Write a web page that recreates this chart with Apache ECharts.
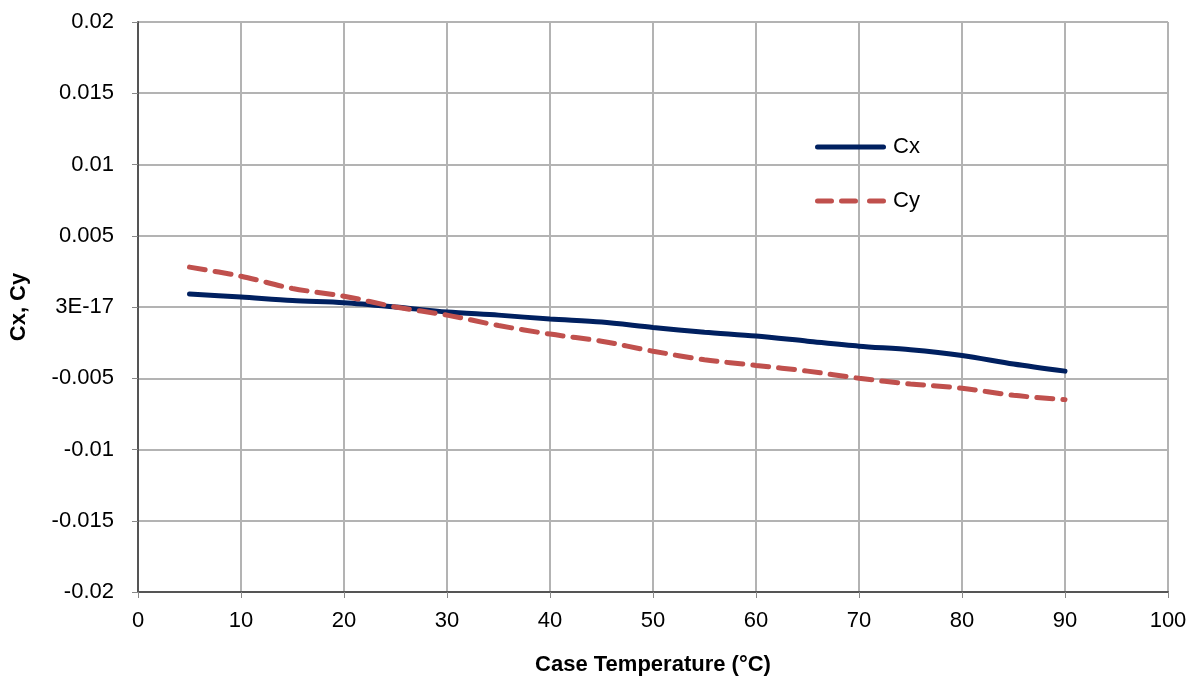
<!DOCTYPE html>
<html><head><meta charset="utf-8">
<script src="https://cdn.jsdelivr.net/npm/echarts@6/dist/echarts.min.js"></script>
<style>html,body{margin:0;padding:0;background:#fff}#c{width:1192px;height:681px}</style>
</head><body><div id="c"></div>
<script>
const temps = [5,10,15,20,25,30,35,40,45,50,55,60,65,70,75,80,85,90];
const cx = [0.00092,0.0007,0.00045,0.0003,0.0,-0.00035,-0.00057,-0.00085,-0.00106,-0.00144,-0.00177,-0.00204,-0.0024,-0.00275,-0.003,-0.0034,-0.004,-0.0045];
const cy = [0.0028,0.00216,0.0013,0.00076,0.0,-0.00057,-0.0013,-0.0019,-0.0024,-0.0031,-0.0037,-0.0041,-0.0045,-0.005,-0.0054,-0.0057,-0.0062,-0.0065];
const yTickLabels = {"0.02":"0.02","0.015":"0.015","0.01":"0.01","0.005":"0.005","0":"3E-17","-0.005":"-0.005","-0.01":"-0.01","-0.015":"-0.015","-0.02":"-0.02"};
const FONT = "Liberation Sans";
const chart = echarts.init(document.getElementById('c'));
chart.setOption({
  animation:false,
  textStyle:{fontFamily:FONT},
  grid:{left:136,right:24,top:22,bottom:88},
  legend:{orient:'vertical',left:810,top:131,itemWidth:71,itemHeight:5,itemGap:32,itemGap:32,
    textStyle:{fontSize:22,color:'#000',fontFamily:FONT,padding:[0,0,0,2]},
    data:[
      {name:'Cx',icon:'path://M2.5,0h66a2.5,2.5 0 0 1 0,5h-66a2.5,2.5 0 0 1 0,-5z',itemStyle:{color:'#002060'}},
      {name:'Cy',icon:'path://M2.5,0h14a2.5,2.5 0 0 1 0,5h-14a2.5,2.5 0 0 1 0,-5z M26.5,0h14a2.5,2.5 0 0 1 0,5h-14a2.5,2.5 0 0 1 0,-5z M54.5,0h14a2.5,2.5 0 0 1 0,5h-14a2.5,2.5 0 0 1 0,-5z',itemStyle:{color:'#C0504D'}}
    ]},
  xAxis:{type:'value',min:0,max:100,interval:10,
    name:'Case Temperature (°C)',nameLocation:'middle',nameGap:62,
    nameTextStyle:{fontSize:22,fontWeight:'bold',color:'#000',fontFamily:FONT},
    axisLine:{show:true,onZero:false,lineStyle:{color:'#555',width:2}},
    axisTick:{show:true,length:6,lineStyle:{color:'#888',width:1}},
    axisLabel:{fontSize:22,color:'#000',margin:18,fontFamily:FONT},
    splitLine:{show:true,lineStyle:{color:'#b3b3b3',width:2}}},
  yAxis:{type:'value',min:-0.02,max:0.02,interval:0.005,
    name:'Cx, Cy',nameLocation:'middle',nameGap:108,nameRotate:90,
    nameTextStyle:{fontSize:22,fontWeight:'bold',color:'#000',fontFamily:FONT},
    axisLine:{show:true,onZero:false,lineStyle:{color:'#555',width:2}},
    axisTick:{show:true,length:6,lineStyle:{color:'#888',width:1}},
    axisLabel:{fontSize:22,color:'#000',margin:24,fontFamily:FONT,
      formatter:function(v){const k=String(Math.round(v*1000)/1000);return yTickLabels[k]!==undefined?yTickLabels[k]:k;}},
    splitLine:{show:true,lineStyle:{color:'#b3b3b3',width:2}}},
  series:[
    {name:'Cx',type:'line',smooth:0.3,showSymbol:false,symbol:'none',
     data:temps.map((t,i)=>[t,cx[i]]),
     lineStyle:{color:'#002060',width:5,cap:'round'},itemStyle:{color:'#002060'}},
    {name:'Cy',type:'line',smooth:0.3,showSymbol:false,symbol:'none',
     data:temps.map((t,i)=>[t,cy[i]]),
     lineStyle:{color:'#C0504D',width:5,type:[16,10],cap:'round'},itemStyle:{color:'#C0504D'}}
  ]
});
</script></body></html>
